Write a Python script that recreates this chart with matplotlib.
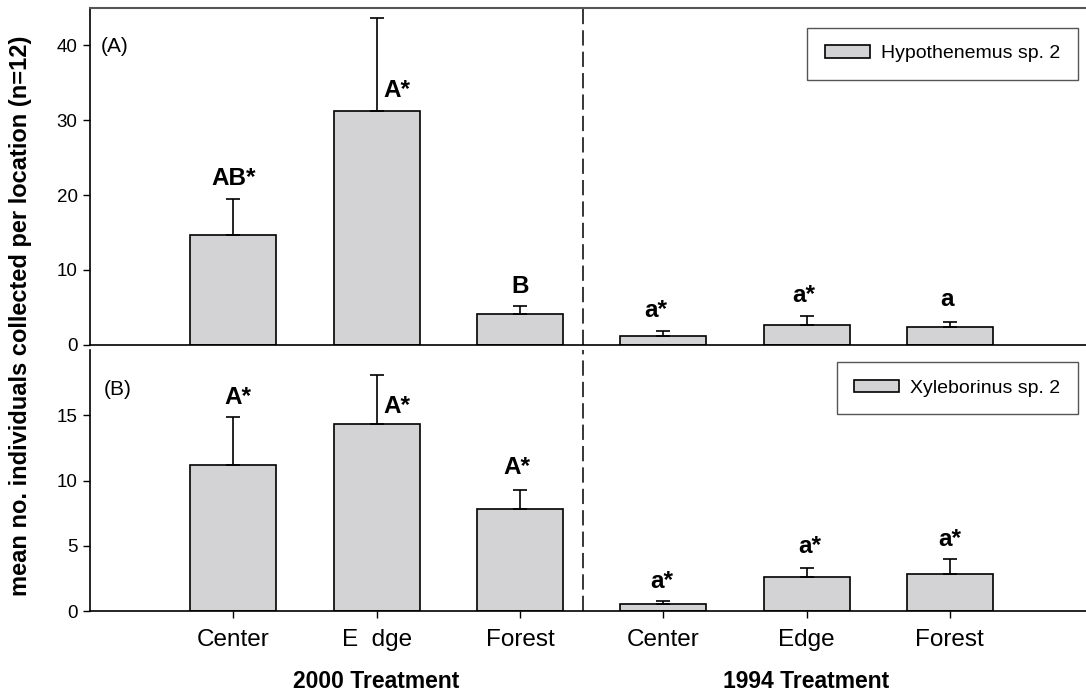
import matplotlib
matplotlib.use('Agg')
import matplotlib.pyplot as plt
import numpy as np

plt.rcParams['font.family'] = ['Liberation Sans', 'DejaVu Sans']

# data
positions = [1, 2, 3, 4, 5, 6]
tick_labels = ['Center', 'E  dge', 'Forest', 'Center', 'Edge', 'Forest']
groups = ['2000 Treatment', '1994 Treatment']

hypo_mean = [14.7, 31.2, 4.1, 1.2, 2.6, 2.3]
hypo_se = [4.75, 12.5, 1.1, 0.6, 1.2, 0.7]
hypo_letters = ['AB*', 'A*', 'B', 'a*', 'a*', 'a']
hypo_text_x = [1.0, 2.14, 3.0, 3.95, 4.98, 5.98]
hypo_text_y = [21.4, 33.1, 6.9, 3.65, 5.7, 5.1]

xyle_mean = [11.2, 14.3, 7.85, 0.5, 2.6, 2.8]
xyle_se = [3.65, 3.75, 1.45, 0.27, 0.7, 1.2]
xyle_letters = ['A*', 'A*', 'A*', 'a*', 'a*', 'a*']
xyle_text_x = [1.03, 2.14, 2.98, 3.99, 5.02, 6.0]
xyle_text_y = [15.9, 15.2, 10.5, 1.75, 4.45, 4.95]

BAR_COLOR = '#d3d3d6'
FONTSIZE = 14

fig = plt.figure(figsize=(10.86, 6.95), dpi=100)
ax_a = fig.add_axes([90 / 1086, 1 - 344.6 / 695, 996 / 1086, 336.6 / 695])
ax_b = fig.add_axes([90 / 1086, 1 - 611 / 695, 996 / 1086, 261 / 695])


def draw_panel(ax, means, se, letters, tx, ty, label, ylim, yticks, legend_y):
    bars = ax.bar(positions, means, width=0.6, color=BAR_COLOR, edgecolor='black',
                  linewidth=1.2, label=label, zorder=2)
    ax.errorbar(positions, means, yerr=[np.zeros(len(se)), se], fmt='none',
                ecolor='black', elinewidth=1.2, capsize=5, capthick=1.2, zorder=3)
    for x, y, s in zip(tx, ty, letters):
        ax.text(x, y, s, ha='center', va='baseline', fontsize=17.5, fontweight='bold')
    ax.set_xlim(0, 6.95)
    ax.set_ylim(*ylim)
    ax.set_yticks(yticks)
    ax.tick_params(axis='y', direction='out', length=5, width=1, pad=4, labelsize=13.5)
    ax.axvline(3.44, color='black', linewidth=1.1, linestyle=(0, (10, 4)), zorder=1)
    leg = ax.legend(loc='upper right', bbox_to_anchor=(0.992, legend_y), borderaxespad=0,
                    fontsize=FONTSIZE, fancybox=False, framealpha=1, edgecolor='#555555',
                    handlelength=2.3, handleheight=0.6, handletextpad=0.6, borderpad=0.9)
    leg.get_frame().set_linewidth(1.0)
    ax.spines['right'].set_visible(False)
    for s in ['left', 'bottom']:
        ax.spines[s].set_linewidth(1.2)
    return bars


draw_panel(ax_a, hypo_mean, hypo_se, hypo_letters, hypo_text_x, hypo_text_y,
           'Hypothenemus sp. 2', (0, 45), [0, 10, 20, 30, 40], 0.941)
draw_panel(ax_b, xyle_mean, xyle_se, xyle_letters, xyle_text_x, xyle_text_y,
           'Xyleborinus sp. 2', (0, 20), [0, 5, 10, 15], 0.954)

ax_a.spines['top'].set_color('#555555')
ax_a.spines['top'].set_linewidth(1.5)
ax_a.set_xticks([])
ax_b.spines['top'].set_visible(False)
ax_b.set_xticks(positions)
ax_b.set_xticklabels(tick_labels)
ax_b.tick_params(axis='x', direction='out', length=5, width=1, pad=8, labelsize=17.5)

ax_a.text(0.011, 0.885, '(A)', transform=ax_a.transAxes, fontsize=15, va='center')
ax_b.text(0.014, 0.85, '(B)', transform=ax_b.transAxes, fontsize=15, va='center')

ax_b.text(2, -5.4, groups[0], ha='center', va='center', fontsize=16.5, fontweight='bold')
ax_b.text(5, -5.4, groups[1], ha='center', va='center', fontsize=16.5, fontweight='bold')

fig.text(0.019, 0.545, 'mean no. individuals collected per location (n=12)', rotation=90,
         ha='center', va='center', fontsize=17, fontweight='bold')

fig.savefig('out.png', dpi=100)
